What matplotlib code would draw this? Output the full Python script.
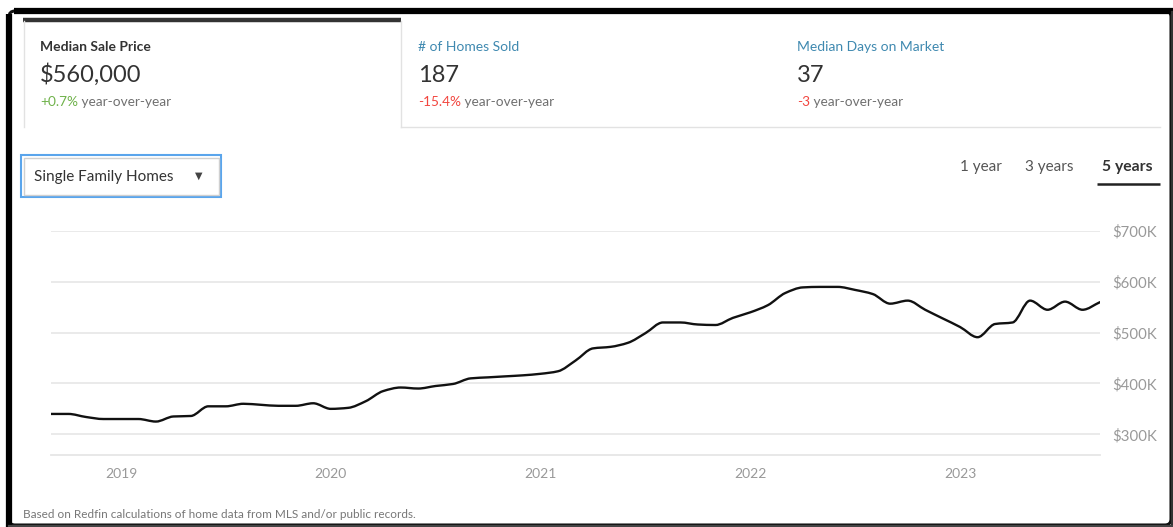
import numpy as np
import pandas as pd
import matplotlib
matplotlib.use("Agg")
import matplotlib.pyplot as plt
from matplotlib.path import Path
from matplotlib.patches import PathPatch, FancyBboxPatch, Rectangle

plt.rcParams['font.family'] = ['Lato', 'DejaVu Sans']

# ---------------- data ----------------
months = pd.date_range("2018-09-01", periods=61, freq="MS")
median_price_k = [340, 340, 334, 330, 330, 330, 325, 335, 336, 355,
                  355, 360, 358, 356, 356, 361, 350, 352, 365, 385,
                  392, 390, 395, 399, 410, 412, 414, 416, 419, 424,
                  445, 469, 472, 480, 499, 520, 520, 516, 515, 529,
                  540, 554, 578, 589, 590, 590, 584, 576, 557, 563,
                  545, 528, 511, 491, 517, 520, 563, 545, 561, 545,
                  560]
y_ticks = [300, 400, 500, 600, 700]
y_tick_labels = ["$300K", "$400K", "$500K", "$600K", "$700K"]
year_labels = ["2019", "2020", "2021", "2022", "2023"]

tabs = [
    ("Median Sale Price", "$560,000", "+0.7%", " year-over-year", "#6fb24a"),
    ("# of Homes Sold", "187", "-15.4%", " year-over-year", "#f2463f"),
    ("Median Days on Market", "37", "-3", " year-over-year", "#f2463f"),
]
ranges = ["1 year", "3 years", "5 years"]
property_type = "Single Family Homes"
footnote = "Based on Redfin calculations of home data from MLS and/or public records."

W, H = 1173, 527
fig = plt.figure(figsize=(W / 100, H / 100), dpi=100)

# background overlay axes in pixel coordinates
bg = fig.add_axes([0, 0, 1, 1])
bg.set_xlim(0, W)
bg.set_ylim(H, 0)
bg.axis("off")

# outer frame
bg.add_patch(FancyBboxPatch((9, 11), W - 11, H - 13, boxstyle="round,pad=0,rounding_size=6",
                            fill=False, ec="#111111", lw=2.2, zorder=1))
bg.plot([9, 9], [14, H], color="#000", lw=4.5, solid_capstyle="butt", zorder=2)
bg.plot([14, W], [10.5, 10.5], color="#000", lw=4.5, solid_capstyle="butt", zorder=2)
bg.plot([W - 1.5, W - 1.5], [12, H], color="#333", lw=1.6, zorder=2)
bg.plot([9, W], [H - 1.2, H - 1.2], color="#444", lw=1.6, zorder=2)

# tabs
bg.plot([23, 401], [20, 20], color="#333333", lw=3.2, solid_capstyle="butt")
bg.plot([23.5, 23.5], [21, 127], color="#e2e2e2", lw=1)
bg.plot([401, 401], [21, 127], color="#e2e2e2", lw=1)
bg.plot([401, 1160], [127, 127], color="#e2e2e2", lw=1)

tab_x = [40, 418, 797]
for i, (title, value, chg, rest, ccol) in enumerate(tabs):
    x = tab_x[i]
    if i == 0:
        bg.text(x, 47, title, fontsize=10, fontweight="bold", color="#333333", va="center")
    else:
        bg.text(x, 47, title, fontsize=10, color="#3f89b0", va="center")
    bg.text(x, 75, value, fontsize=17, color="#333333", va="center")
    t = bg.text(x, 102, chg, fontsize=9.8, color=ccol, va="center")
    fig.canvas.draw()
    bb = t.get_window_extent()
    bg.text(x + bb.width, 102, rest, fontsize=9.8, color="#707070", va="center")

# dropdown
bg.add_patch(Rectangle((21, 155), 200, 42, fill=False, ec="#5aa5ec", lw=1.5))
bg.add_patch(Rectangle((23.5, 157.5), 195, 37, fill=False, ec="#d0d0d0", lw=1))
bg.text(34, 177, property_type, fontsize=11, color="#333333", va="center")
bg.text(199, 176, "\u25BC", fontsize=7, color="#444444", va="center", ha="center",
        family=["DejaVu Sans"])

# range selector
range_x = [960, 1025, 1102]
for i, (lab, x) in enumerate(zip(ranges, range_x)):
    bold = i == 2
    bg.text(x, 167, lab, fontsize=11.3 if bold else 11, color="#333333" if bold else "#555555",
            fontweight="bold" if bold else "normal", va="center")
bg.plot([1097, 1160], [184, 184], color="#222222", lw=1.8, solid_capstyle="butt")

bg.text(23, 515, footnote, fontsize=8.5, color="#777777", va="center")

# ---------------- chart ----------------
left_px, right_px, top_px, bot_px = 51, 1100, 231, 455
ax = fig.add_axes([left_px / W, (H - bot_px) / H, (right_px - left_px) / W, (bot_px - top_px) / H])
ax.patch.set_alpha(0)
x = np.arange(len(months))
ax.set_xlim(x[0], x[-1])
ax.set_ylim(259.2, 700)

# monotone cubic (d3 curveMonotoneX style) path through the data
y = np.asarray(median_price_k, dtype=float)
h = np.diff(x).astype(float)
d = np.diff(y) / h
m = np.zeros_like(y)
m[0], m[-1] = d[0], d[-1]
for k in range(1, len(y) - 1):
    if d[k - 1] * d[k] <= 0:
        m[k] = 0
    else:
        m[k] = 2 / (1 / d[k - 1] + 1 / d[k])
verts = [(x[0], y[0])]
codes = [Path.MOVETO]
for k in range(len(y) - 1):
    verts += [(x[k] + h[k] / 3, y[k] + m[k] * h[k] / 3),
              (x[k + 1] - h[k] / 3, y[k + 1] - m[k + 1] * h[k] / 3),
              (x[k + 1], y[k + 1])]
    codes += [Path.CURVE4] * 3
ax.add_patch(PathPatch(Path(verts, codes), fill=False, ec="#111111", lw=1.7,
                       joinstyle="round", capstyle="round", zorder=3))

ax.set_yticks(y_ticks)
ax.set_yticklabels(y_tick_labels)
ax.yaxis.tick_right()
ax.grid(axis="y", color="#e8e8e8", lw=1.3)
ax.set_axisbelow(True)
jan_idx = [i for i, mth in enumerate(months) if mth.month == 1]
ax.set_xticks(jan_idx)
ax.set_xticklabels(year_labels)
ax.tick_params(axis="both", length=0, colors="#999999", labelsize=10)
ax.tick_params(axis="y", pad=8.5, labelsize=10.8)
ax.tick_params(axis="x", pad=9)
for s in ["top", "left", "right"]:
    ax.spines[s].set_visible(False)
ax.spines["bottom"].set_color("#e6e6e6")
ax.spines["bottom"].set_linewidth(1.3)

fig.savefig("out.png", dpi=100)
